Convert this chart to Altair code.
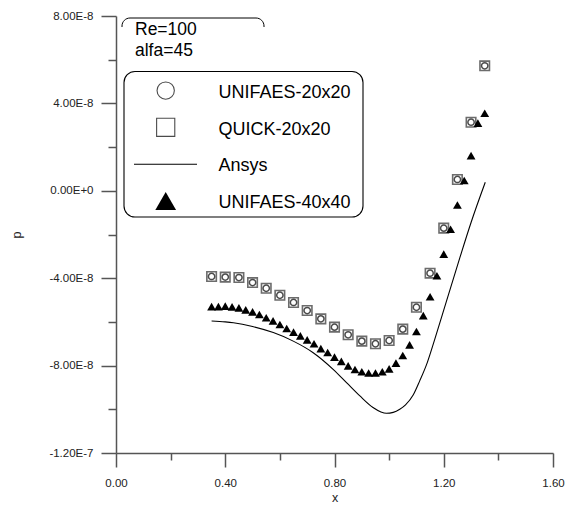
import altair as alt
import pandas as pd

# ---- series -------------------------------------------------------------
# 20x20 grid (UNIFAES and QUICK give the same pressures)
x_20 = [0.35, 0.40, 0.45, 0.50, 0.55, 0.60, 0.65, 0.70, 0.75, 0.80, 0.85,
        0.90, 0.95, 1.00, 1.05, 1.10, 1.15, 1.20, 1.25, 1.30, 1.35]
p_unifaes_20 = [-3.92e-8, -3.95e-8, -3.97e-8, -4.20e-8, -4.46e-8, -4.78e-8,
                -5.11e-8, -5.48e-8, -5.86e-8, -6.24e-8, -6.59e-8, -6.88e-8,
                -7.00e-8, -6.85e-8, -6.33e-8, -5.33e-8, -3.77e-8, -1.71e-8,
                0.52e-8, 3.14e-8, 5.72e-8]
p_quick_20 = [-3.92e-8, -3.95e-8, -3.97e-8, -4.20e-8, -4.46e-8, -4.78e-8,
              -5.11e-8, -5.48e-8, -5.86e-8, -6.24e-8, -6.59e-8, -6.88e-8,
              -7.00e-8, -6.85e-8, -6.33e-8, -5.33e-8, -3.77e-8, -1.71e-8,
              0.52e-8, 3.14e-8, 5.72e-8]

# 40x40 grid
x_40 = [0.350, 0.375, 0.400, 0.425, 0.450, 0.475, 0.500, 0.525, 0.550, 0.575,
        0.600, 0.625, 0.650, 0.675, 0.700, 0.725, 0.750, 0.775, 0.800, 0.825,
        0.850, 0.875, 0.900, 0.925, 0.950, 0.975, 1.000, 1.025, 1.050, 1.075,
        1.100, 1.125, 1.150, 1.175, 1.200, 1.225, 1.250, 1.275, 1.300, 1.325,
        1.350]
p_unifaes_40 = [-5.30e-8, -5.30e-8, -5.28e-8, -5.31e-8, -5.36e-8, -5.45e-8,
                -5.54e-8, -5.66e-8, -5.81e-8, -5.95e-8, -6.12e-8, -6.30e-8,
                -6.47e-8, -6.64e-8, -6.82e-8, -7.00e-8, -7.22e-8, -7.40e-8,
                -7.61e-8, -7.81e-8, -8.01e-8, -8.18e-8, -8.28e-8, -8.34e-8,
                -8.34e-8, -8.28e-8, -8.15e-8, -7.89e-8, -7.54e-8, -7.05e-8,
                -6.44e-8, -5.71e-8, -4.85e-8, -3.89e-8, -2.90e-8, -1.76e-8,
                -0.65e-8, 0.47e-8, 1.61e-8, 3.10e-8, 3.55e-8]

# Ansys reference solution
x_ansys = [0.350, 0.400, 0.430, 0.500, 0.576, 0.649, 0.722, 0.795, 0.844,
           0.893, 0.941, 0.970, 0.990, 1.015, 1.039, 1.060, 1.088, 1.112,
           1.140, 1.167, 1.210, 1.259, 1.300, 1.352]
p_ansys = [-5.96e-8, -6.00e-8, -6.04e-8, -6.21e-8, -6.49e-8, -6.88e-8,
           -7.41e-8, -8.17e-8, -8.78e-8, -9.39e-8, -9.92e-8, -10.12e-8,
           -10.18e-8, -10.14e-8, -10.00e-8, -9.80e-8, -9.35e-8, -8.70e-8,
           -7.85e-8, -6.80e-8, -5.05e-8, -3.06e-8, -1.45e-8, 0.39e-8]

# ---- axes ---------------------------------------------------------------
x_ticks = [0.0, 0.2, 0.4, 0.6, 0.8, 1.0, 1.2, 1.4, 1.6]
y_ticks = [-1.2e-7, -1.0e-7, -8e-8, -6e-8, -4e-8, -2e-8, 0.0,
           2e-8, 4e-8, 6e-8, 8e-8]

series_names = ["UNIFAES-20x20", "QUICK-20x20", "Ansys", "UNIFAES-40x40"]
case_lines = ["Re=100", "alfa=45"]

FONT = "Liberation Sans"
AXIS_GREY = "#555555"
W, H = 437, 437

x_major = "round(datum.value*5)%2==0"
y_major = "round(datum.value*5e7)%2==0"

x_scale = alt.Scale(domain=[0, 1.6], nice=False, zero=False)
y_scale = alt.Scale(domain=[-1.2e-7, 8e-8], nice=False, zero=False)

x_axis = alt.Axis(
    values=x_ticks, grid=False, title="x",
    labelExpr=f"{x_major} ? format(datum.value, '.2f') : ''",
    tickSize={"condition": {"test": x_major, "value": 14}, "value": 7},
    labelPadding=10, labelOverlap=False, labelFlush=False,
    labelFont=FONT, labelFontSize=11.5, labelColor="#222222",
    domainColor=AXIS_GREY, domainWidth=1.5, tickColor=AXIS_GREY, tickWidth=1.5,
    titleFont=FONT, titleFontSize=12.5, titleFontWeight="normal",
    titleColor="#222222", titleX=W / 2, titleY=44, titleBaseline="middle",
)
y_axis = alt.Axis(
    values=y_ticks, grid=False, title="p",
    labelExpr=(f"{y_major} ? (datum.value < 0 ? '-' : '') + "
               "replace(format(abs(datum.value), '.2e'), 'e', 'E') : ''"),
    tickSize={"condition": {"test": y_major, "value": 15}, "value": 8},
    labelPadding=8, labelOverlap=False, labelFlush=False,
    labelFont=FONT, labelFontSize=11.5, labelColor="#222222",
    domainColor=AXIS_GREY, domainWidth=1.5, tickColor=AXIS_GREY, tickWidth=1.5,
    titleFont=FONT, titleFontSize=12.5, titleFontWeight="normal",
    titleColor="#222222", titleX=-100, titleY=H / 2, titleAngle=270,
    titleAlign="center", titleBaseline="middle",
)

df20 = pd.DataFrame({"x": x_20, "unifaes": p_unifaes_20, "quick": p_quick_20})
df40 = pd.DataFrame({"x": x_40, "p": p_unifaes_40})
dfa = pd.DataFrame({"x": x_ansys, "p": p_ansys})

ansys = alt.Chart(dfa).mark_line(
    color="black", strokeWidth=1.1, interpolate="monotone"
).encode(
    x=alt.X("x:Q", scale=x_scale, axis=x_axis),
    y=alt.Y("p:Q", scale=y_scale, axis=y_axis),
)

circles = alt.Chart(df20).mark_point(
    shape="circle", filled=False, color="black", strokeWidth=1.5, size=40
).encode(x=alt.X("x:Q", scale=x_scale), y=alt.Y("unifaes:Q", scale=y_scale))

squares = alt.Chart(df20).mark_point(
    shape="square", filled=False, color="#2e2e2e", strokeWidth=1.6, size=90
).encode(x=alt.X("x:Q", scale=x_scale), y=alt.Y("quick:Q", scale=y_scale))

triangles = alt.Chart(df40).mark_point(
    shape="triangle-up", filled=True, color="black", opacity=1, size=78
).encode(x=alt.X("x:Q", scale=x_scale), y=alt.Y("p:Q", scale=y_scale))


# ---- case box and legend ------------------------------------------------
def one(text):
    return pd.DataFrame({"t": [text]})


case_frame = alt.Chart(one("")).mark_rect(
    fill="white", stroke="black", strokeWidth=1, cornerRadius=8
).encode(x=alt.value(6), x2=alt.value(148), y=alt.value(2), y2=alt.value(40))
case_cover = alt.Chart(one("")).mark_rect(fill="white", strokeWidth=0).encode(
    x=alt.value(2), x2=alt.value(152), y=alt.value(11), y2=alt.value(45))
case_text = [
    alt.Chart(one(t)).mark_text(
        font=FONT, fontSize=17.5, align="left", baseline="alphabetic",
        color="black"
    ).encode(x=alt.value(19), y=alt.value(yy), text="t:N")
    for t, yy in zip(case_lines, [18.8, 40.0])
]

legend_box = alt.Chart(one("")).mark_rect(
    fill="white", stroke="black", strokeWidth=1.1, cornerRadius=11
).encode(x=alt.value(8), x2=alt.value(247), y=alt.value(55.5), y2=alt.value(201))

sym_x = 49.7
row_sym_y = [74.6, 111.3, 148.3, 185.1]
row_txt_y = [81.8, 118.5, 155.0, 191.5]

leg_circle = alt.Chart(one(series_names[0])).mark_point(
    shape="circle", filled=False, color="black", strokeWidth=1.1, size=300
).encode(x=alt.value(sym_x), y=alt.value(row_sym_y[0]))
leg_square = alt.Chart(one(series_names[1])).mark_point(
    shape="square", filled=False, color="black", strokeWidth=1.1, size=330
).encode(x=alt.value(sym_x), y=alt.value(row_sym_y[1]))
leg_line = alt.Chart(one(series_names[2])).mark_rule(
    color="black", strokeWidth=1.1
).encode(x=alt.value(18), x2=alt.value(81), y=alt.value(row_sym_y[2]))
leg_tri = alt.Chart(one(series_names[3])).mark_point(
    shape="triangle-up", filled=True, color="black", opacity=1, size=430
).encode(x=alt.value(sym_x), y=alt.value(row_sym_y[3]))

leg_text = [
    alt.Chart(one(name)).mark_text(
        font=FONT, fontSize=18, align="left", baseline="alphabetic",
        color="black"
    ).encode(x=alt.value(102.5), y=alt.value(yy), text="t:N")
    for name, yy in zip(series_names, row_txt_y)
]

chart = alt.layer(
    ansys, circles, squares, triangles,
    case_frame, case_cover, *case_text,
    legend_box, leg_circle, leg_square, leg_line, leg_tri, *leg_text,
).properties(
    width=W, height=H,
    padding={"left": 116, "top": 16, "right": 15, "bottom": 53},
    autosize=alt.AutoSizeParams(type="none"),
    background="white",
).configure_view(strokeWidth=0)

chart.save("out.html", embed_options={"renderer": "svg", "actions": False})
